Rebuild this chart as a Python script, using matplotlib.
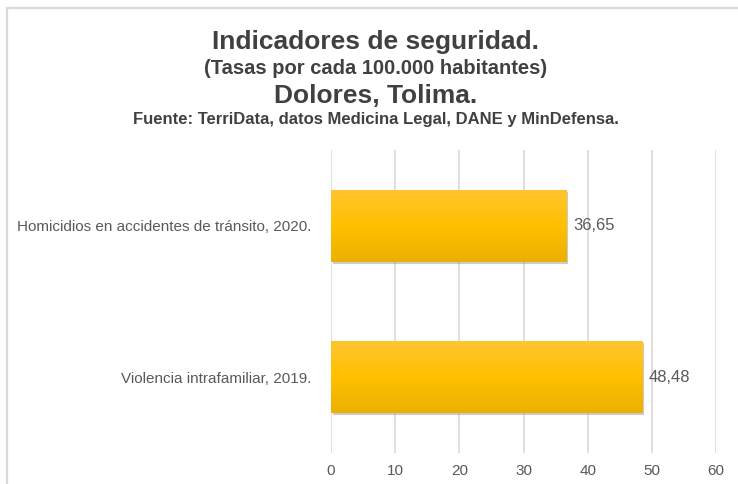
import numpy as np
import matplotlib
matplotlib.use("Agg")
import matplotlib.pyplot as plt
import matplotlib.patches as mpatches
import matplotlib.patheffects as pe
from matplotlib.colors import LinearSegmentedColormap

# data
categorias = ["Homicidios en accidentes de tránsito, 2020.", "Violencia intrafamiliar, 2019."]
tasas = [36.65, 48.48]
ticks_x = [0, 10, 20, 30, 40, 50, 60]

plt.rcParams["font.family"] = ["Liberation Sans", "DejaVu Sans"]
gris = "#595959"
gris_titulo = "#404040"

fig = plt.figure(figsize=(7.38, 4.84), dpi=100)
fig.patch.set_facecolor("white")

# light frame around the chart area (top and left visible)
borde = mpatches.Rectangle((7 / 738, -0.05), 1.0, 1 - 8 / 484 + 0.05, transform=fig.transFigure,
                           fill=False, edgecolor="#d9d9d9", linewidth=1.6)
fig.patches.append(borde)

# titles
cx = 376 / 738
fig.text(cx, 0.899, "Indicadores de seguridad.", ha="center", va="baseline",
         fontsize=19, fontweight="bold", color=gris_titulo)
fig.text(cx, 0.847, "(Tasas por cada 100.000 habitantes)", ha="center", va="baseline",
         fontsize=14.5, fontweight="bold", color=gris_titulo)
fig.text(cx, 0.787, "Dolores, Tolima.", ha="center", va="baseline",
         fontsize=19, fontweight="bold", color=gris_titulo)
fig.text(cx, 0.743, "Fuente: TerriData, datos Medicina Legal, DANE y MinDefensa.", ha="center",
         va="baseline", fontsize=12, fontweight="bold", color=gris_titulo)

ax = fig.add_axes([331 / 738, 1 - 453 / 484, 385 / 738, 303 / 484])
y = np.arange(len(categorias))
barras = ax.barh(y, tasas, height=0.475, color="#FFC000", zorder=3,
                 path_effects=[pe.SimplePatchShadow(offset=(1.5, -1.5), shadow_rgbFace="#999999", alpha=0.5),
                               pe.Normal()])

# vertical gradient inside each bar
cmap = LinearSegmentedColormap.from_list("oro", ["#FFC52E", "#FFC000", "#ECB000"])
grad = np.linspace(0, 1, 100).reshape(-1, 1)
for b in barras:
    x0, y0, w, h = b.get_x(), b.get_y(), b.get_width(), b.get_height()
    im = ax.imshow(grad, cmap=cmap, aspect="auto", extent=(x0, x0 + w, y0 + h, y0), zorder=4,
                   origin="upper")
    im.set_clip_path(b)

ax.bar_label(barras, labels=[f"{v:.2f}".replace(".", ",") for v in tasas], padding=5,
             fontsize=12, color=gris, zorder=5)

ax.set_xlim(0, 60)
ax.set_ylim(1.5, -0.5)
ax.set_xticks(ticks_x)
ax.set_yticks(y)
ax.set_yticklabels(categorias)
ax.tick_params(axis="x", length=0, pad=8, labelsize=11, labelcolor=gris)
ax.tick_params(axis="y", length=0, pad=14, labelsize=11, labelcolor=gris)
ax.grid(axis="x", color="#d9d9d9", linewidth=1.2, zorder=0)
for s in ax.spines.values():
    s.set_visible(False)

fig.savefig("out.png", dpi=100, facecolor="white")
